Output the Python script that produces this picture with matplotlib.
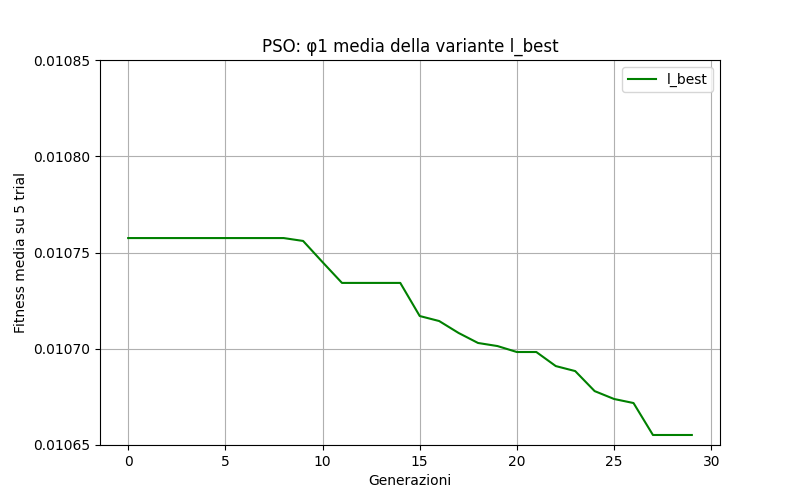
import matplotlib
matplotlib.use("Agg")
import matplotlib.pyplot as plt

generations = list(range(30))
fitness = [0.0107575]*9 + [0.010756, 0.010745, 0.0107342, 0.0107342, 0.0107342, 0.0107342,
           0.010717, 0.0107144, 0.0107082, 0.010703, 0.0107014, 0.0106983, 0.0106983,
           0.010691, 0.0106884, 0.010678, 0.0106739, 0.0106718, 0.0106552, 0.0106552, 0.0106552]

fig, ax = plt.subplots(figsize=(8, 5), dpi=100)
ax.plot(generations, fitness, color="green", label="l_best")
ax.set_ylim(0.01065, 0.01085)
ax.set_yticks([0.01065, 0.01070, 0.01075, 0.01080, 0.01085])
ax.set_yticklabels(["0.01065", "0.01070", "0.01075", "0.01080", "0.01085"])
ax.set_title("PSO: φ1 media della variante l_best")
ax.set_xlabel("Generazioni")
ax.set_ylabel("Fitness media su 5 trial")
ax.grid(True)
ax.legend(loc="upper right")
fig.savefig("out.png")
